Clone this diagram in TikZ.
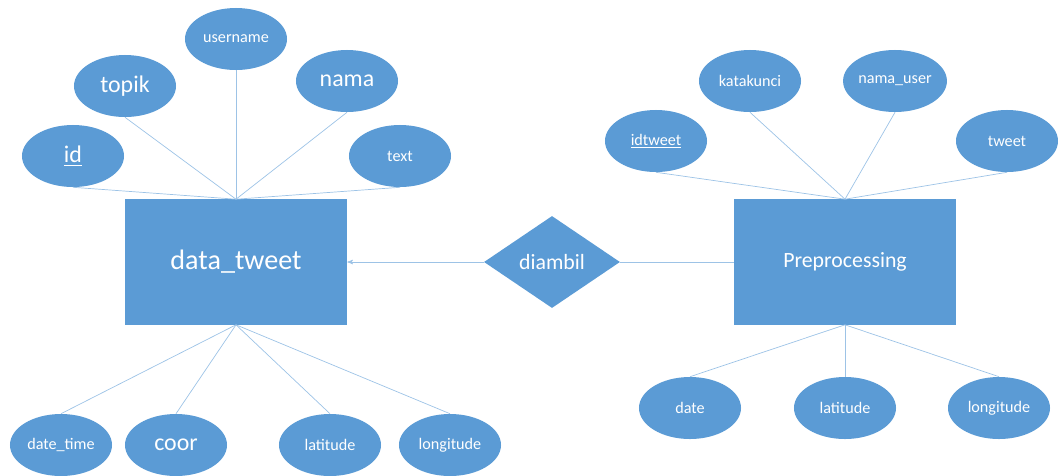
\documentclass[tikz,border=0pt]{standalone}
\usepackage{fontspec}
\setmainfont{Carlito}
\usetikzlibrary{shapes.geometric, arrows}
\definecolor{erblue}{HTML}{5B9BD5}
\definecolor{erline}{HTML}{9DC3E6}
\tikzset{
  entity/.style={rectangle, fill=erblue, text=white, minimum width=5.55cm, minimum height=3.125cm}, % the two tables
  attr/.style={ellipse, fill=erblue, text=white, minimum width=2.55cm, minimum height=1.55cm, inner sep=0pt}, % every column
  relation/.style={diamond, fill=erblue, text=white, minimum width=3.4cm, minimum height=2.3cm, inner sep=0pt},
  link/.style={draw=erline, line width=0.5pt}, % lines between the shapes
  big/.style={font=\fontsize{17}{19}\selectfont},
  small/.style={font=\fontsize{11.5}{13}\selectfont},
}

\begin{document}
\begin{tikzpicture}[x=0.025cm, y=-0.025cm]
  \useasboundingbox (0,0) rectangle (1058,475);

  % entities and relation
  \node[entity, font=\fontsize{20}{22}\selectfont] (dt) at (236,262) {data\_tweet};
  \node[entity, font=\fontsize{15.5}{17}\selectfont] (pre) at (845,262) {Preprocessing};
  \node[relation, font=\fontsize{15.5}{17}\selectfont] (amb) at (552,262) {diambil};

  % attributes of data_tweet
  \node[attr, big] (id) at (73,156) {\underline{id}};
  \node[attr, big] (topik) at (125,86) {topik};
  \node[attr, small] (username) at (236,39) {username};
  \node[attr, big] (nama) at (347,81) {nama};
  \node[attr, small] (text) at (400,156) {text};
  \node[attr, small] (datetime) at (61,445) {date\_time};
  \node[attr, big] (coor) at (176,445) {coor};
  \node[attr, small] (lat) at (330,445) {latitude};
  \node[attr, small] (lon) at (450,445) {longitude};

  % attributes of Preprocessing
  \node[attr, small] (idtweet) at (656,141) {\underline{idtweet}};
  \node[attr, small] (kunci) at (750,81) {katakunci};
  \node[attr, small] (namauser) at (895,81) {nama\_user};
  \node[attr, small] (tweet) at (1007,141) {tweet};
  \node[attr, small] (date) at (690,408) {date};
  \node[attr, small] (plat) at (845,408) {latitude};
  \node[attr, small] (plon) at (999,408) {longitude};

  \foreach \a in {id, topik, username, nama, text}
    \draw[link] (dt.north) -- (\a.south);
  \foreach \a in {datetime, coor, lat, lon}
    \draw[link] (dt.south) -- (\a.north);
  \foreach \a in {idtweet, kunci, namauser, tweet}
    \draw[link] (pre.north) -- (\a.south);
  \foreach \a in {date, plat, plon}
    \draw[link] (pre.south) -- (\a.north);

  \draw[link, ->, >=stealth'] (amb.west) -- (dt.east);
  \draw[link] (amb.east) -- (pre.west);
\end{tikzpicture}
\end{document}
